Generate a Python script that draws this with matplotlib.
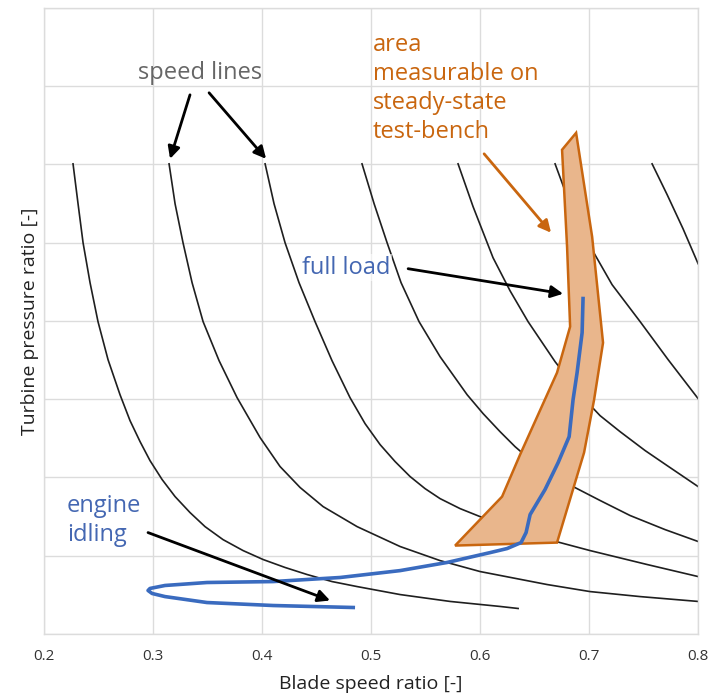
import matplotlib
matplotlib.use("Agg")
import matplotlib.pyplot as plt
from matplotlib.patches import Polygon

plt.rcParams['font.family'] = ['Open Sans', 'DejaVu Sans']

# ---- data ----
speed_line_1_x = [0.2266, 0.2312, 0.2358, 0.2422, 0.2495, 0.2587, 0.2697, 0.2789, 0.2881, 0.2972, 0.3083,
                  0.3202, 0.3339, 0.3477, 0.3642, 0.3826, 0.4009, 0.4211, 0.4413, 0.4642, 0.4872,
                  0.5266, 0.5725, 0.6183, 0.6349]
speed_line_1_y = [4.004, 3.749, 3.500, 3.245, 2.996, 2.753, 2.529, 2.363, 2.229, 2.108, 1.987,
                  1.878, 1.776, 1.686, 1.603, 1.533, 1.476, 1.425, 1.380, 1.335, 1.303,
                  1.252, 1.208, 1.176, 1.163]

speed_line_2_x = [0.3147, 0.3202, 0.3275, 0.3358, 0.3459, 0.3606, 0.3771, 0.3982, 0.4165, 0.4349, 0.4560,
                  0.4872, 0.5266, 0.5633, 0.6000, 0.6615, 0.7009, 0.7468, 0.8000]
speed_line_2_y = [4.004, 3.749, 3.500, 3.245, 2.996, 2.746, 2.510, 2.255, 2.070, 1.936, 1.814,
                  1.686, 1.559, 1.469, 1.399, 1.316, 1.271, 1.239, 1.208]

speed_line_3_x = [0.4028, 0.4110, 0.4211, 0.4339, 0.4486, 0.4642, 0.4807, 0.4945, 0.5083, 0.5220, 0.5358,
                  0.5495, 0.5633, 0.5817, 0.6000, 0.6394, 0.6734, 0.7009, 0.7532, 0.8000]
speed_line_3_y = [4.004, 3.749, 3.500, 3.245, 2.996, 2.746, 2.510, 2.344, 2.210, 2.102, 2.006,
                  1.929, 1.865, 1.801, 1.750, 1.648, 1.584, 1.533, 1.444, 1.367]

speed_line_4_x = [0.4917, 0.5028, 0.5147, 0.5275, 0.5440, 0.5633, 0.5881, 0.6028, 0.6183, 0.6321, 0.6459,
                  0.6642, 0.6853, 0.7101, 0.7376, 0.7697, 0.8000]
speed_line_4_y = [4.004, 3.749, 3.500, 3.245, 2.996, 2.772, 2.529, 2.408, 2.293, 2.197, 2.114,
                  2.025, 1.942, 1.853, 1.757, 1.667, 1.591]

speed_line_5_x = [0.5798, 0.5936, 0.6119, 0.6275, 0.6440, 0.6688, 0.6945, 0.7101, 0.7284, 0.7514, 0.7716, 0.8000]
speed_line_5_y = [4.004, 3.730, 3.404, 3.193, 2.996, 2.740, 2.510, 2.395, 2.293, 2.172, 2.076, 1.942]

speed_line_6_x = [0.6688, 0.6826, 0.6991, 0.7211, 0.7468, 0.7725, 0.8000]
speed_line_6_y = [4.004, 3.743, 3.500, 3.232, 2.996, 2.753, 2.504]

speed_line_7_x = [0.7578, 0.7716, 0.7862, 0.8000]
speed_line_7_y = [4.004, 3.807, 3.589, 3.366]

operating_x = [0.6945, 0.6936, 0.6890, 0.6853, 0.6817, 0.6716, 0.6596, 0.6459, 0.6422, 0.6376, 0.6248,
               0.6092, 0.5697, 0.5266, 0.4716, 0.4101, 0.3495, 0.3110, 0.2972, 0.2954, 0.2991, 0.3110,
               0.3495, 0.4101, 0.4853]
operating_y = [3.155, 2.925, 2.670, 2.497, 2.261, 2.095, 1.923, 1.763, 1.648, 1.584, 1.546,
               1.520, 1.457, 1.405, 1.361, 1.335, 1.329, 1.310, 1.291, 1.278, 1.259, 1.239,
               1.201, 1.182, 1.169]

bench_area_x = [0.6881, 0.6752, 0.6798, 0.6826, 0.6706, 0.6367, 0.6202, 0.5771, 0.6706, 0.6954, 0.7046, 0.7128, 0.7028]
bench_area_y = [4.202, 4.094, 3.474, 2.964, 2.670, 2.146, 1.878, 1.565, 1.584, 2.159, 2.497, 2.861, 3.538]

x_ticks = [0.2, 0.3, 0.4, 0.5, 0.6, 0.7, 0.8]
x_tick_labels = ['0.2', '0.3', '0.4', '0.5', '0.6', '0.7', '0.8']
y_grid = [1.0, 1.5, 2.0, 2.5, 3.0, 3.5, 4.0, 4.5, 5.0]

speed_lines = [
    (speed_line_1_x, speed_line_1_y), (speed_line_2_x, speed_line_2_y),
    (speed_line_3_x, speed_line_3_y), (speed_line_4_x, speed_line_4_y),
    (speed_line_5_x, speed_line_5_y), (speed_line_6_x, speed_line_6_y),
    (speed_line_7_x, speed_line_7_y),
]

# ---- style ----
BLUE_LINE = '#3a6bbf'
BLUE_TEXT = '#4467b2'
ORANGE = '#c9660f'
ORANGE_FILL = '#e9b68c'
GRID = '#dcdcdc'

fig = plt.figure(figsize=(7.16, 6.99), dpi=100)
ax = fig.add_axes([0.0615, 0.093, 0.9135, 0.8956])
ax.set_xlim(0.2, 0.8)
ax.set_ylim(1.0, 5.0)
ax.set_xticks(x_ticks)
ax.set_xticklabels(x_tick_labels)
ax.set_yticks(y_grid)
ax.set_yticklabels([])
ax.tick_params(length=0, labelsize=11, colors='#333333', pad=11)
ax.grid(True, color=GRID, lw=1.0)
ax.set_axisbelow(True)
for s in ax.spines.values():
    s.set_color(GRID)
    s.set_linewidth(1.0)

for xs, ys in speed_lines:
    ax.plot(xs, ys, color='#1f1f1f', lw=1.2, zorder=2, solid_joinstyle='round')

poly = Polygon(list(zip(bench_area_x, bench_area_y)), closed=True,
               facecolor=ORANGE_FILL, edgecolor=ORANGE, lw=1.8, zorder=3, joinstyle='miter')
ax.add_patch(poly)

ax.plot(operating_x, operating_y, color=BLUE_LINE, lw=2.6, zorder=4, solid_capstyle='butt',
        solid_joinstyle='round')

ax.set_xlabel('Blade speed ratio [-]', fontsize=14, color='#222222', labelpad=8)
ax.set_ylabel('Turbine pressure ratio [-]', fontsize=14, color='#222222')
ax.yaxis.set_label_coords(-0.008, 0.5)

# annotations
arrow_black = dict(arrowstyle='-|>', color='black', lw=2.0, mutation_scale=18, shrinkA=0, shrinkB=0)
ax.text(0.3431, 4.586, 'speed lines', fontsize=17, color='#666666', ha='center', va='center')
ax.annotate('', xy=(0.3156, 4.036), xytext=(0.3339, 4.445), arrowprops=arrow_black, zorder=6)
ax.annotate('', xy=(0.4037, 4.036), xytext=(0.3514, 4.458), arrowprops=arrow_black, zorder=6)

ax.text(0.4367, 3.340, 'full load', fontsize=17, color=BLUE_TEXT, ha='left', va='center',
        bbox=dict(facecolor='white', alpha=0.6, edgecolor='none', pad=1), zorder=5)
ax.annotate('', xy=(0.6762, 3.174), xytext=(0.5340, 3.334), arrowprops=arrow_black, zorder=6)

ax.text(0.2211, 1.725, 'engine\nidling', fontsize=17, color=BLUE_TEXT, ha='left', va='center',
        linespacing=1.3, zorder=5)
ax.annotate('', xy=(0.4624, 1.214), xytext=(0.2954, 1.648), arrowprops=arrow_black, zorder=6)

ax.text(0.5018, 4.487, 'area\nmeasurable on\nsteady-state\ntest-bench', fontsize=17, color=ORANGE,
        ha='left', va='center', linespacing=1.28, zorder=5)
ax.annotate('', xy=(0.6651, 3.564), xytext=(0.6037, 4.068),
            arrowprops=dict(arrowstyle='-|>', color=ORANGE, lw=2.0, mutation_scale=18, shrinkA=0, shrinkB=0),
            zorder=6)

fig.savefig('out.png', dpi=100)
